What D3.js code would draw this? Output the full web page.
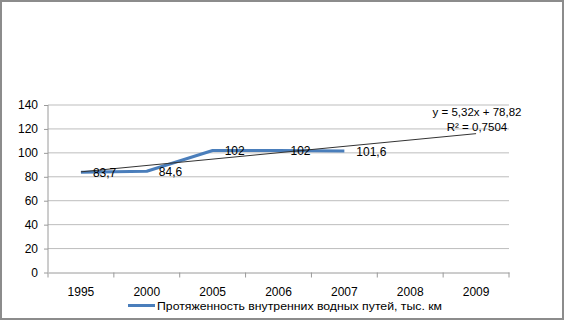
<!DOCTYPE html>
<html><head><meta charset="utf-8">
<script src="https://cdn.jsdelivr.net/npm/d3@7"></script>
<style>body{margin:0;background:#fff}svg{display:block}text{font-family:"Liberation Sans",Arial,sans-serif}</style>
</head><body><svg id="c" width="565" height="321"></svg>
<script>
const categories = ["1995","2000","2005","2006","2007","2008","2009"];
const values = [83.7, 84.6, 102, 102, 101.6];
const valueLabels = ["83,7","84,6","102","102","101,6"];
const yTicks = [0,20,40,60,80,100,120,140];
const trendSlope = 5.32, trendIntercept = 78.82;
const trendText = ["y = 5,32x + 78,82", "R² = 0,7504"];
const seriesName = "Протяженность внутренних водных путей, тыс. км";

const svg = d3.select("#c");
svg.append("rect").attr("x",1).attr("y",1).attr("width",562).attr("height",318)
  .attr("fill","#fff").attr("stroke","#8c8c8c").attr("stroke-width",2);

const L=48, R=509, T=105, B=272.5;
const x = d3.scaleBand().domain(categories).range([L,R]);
const y = d3.scaleLinear().domain([0,140]).range([B,T]);

// gridlines
svg.append("g").selectAll("line").data(yTicks.filter(d=>d>0)).join("line")
  .attr("x1",L).attr("x2",R).attr("y1",d=>y(d)).attr("y2",d=>y(d))
  .attr("stroke","#bdbdbd").attr("stroke-width",1);

// y axis
const ya = svg.append("g").attr("transform",`translate(${L},0)`)
  .call(d3.axisLeft(y).tickValues(yTicks).tickSize(4).tickPadding(6));
ya.select(".domain").attr("stroke","#9a9a9a").attr("d",`M0,${T}V${B}`);
ya.selectAll(".tick line").attr("stroke","#9a9a9a");
ya.selectAll("text").attr("font-size",12).attr("fill","#000").attr("font-family","Liberation Sans, Arial");

// x axis
const xa = svg.append("g").attr("transform",`translate(0,${B})`)
  .call(d3.axisBottom(x).tickSize(0).tickPadding(15));
xa.select(".domain").attr("stroke","#9a9a9a");
xa.selectAll("text").attr("font-size",12).attr("fill","#000").attr("font-family","Liberation Sans, Arial");
svg.append("g").selectAll("line").data(categories.concat(["end"])).join("line")
  .attr("x1",(d,i)=>L+i*x.bandwidth()).attr("x2",(d,i)=>L+i*x.bandwidth())
  .attr("y1",B).attr("y2",B+5).attr("stroke","#9a9a9a");

const cx = i => x(categories[i]) + x.bandwidth()/2;

// series line
svg.append("path").datum(values)
  .attr("d", d3.line().x((d,i)=>cx(i)).y(d=>y(d)))
  .attr("fill","none").attr("stroke","#4a7ebb").attr("stroke-width",3).attr("stroke-linejoin","round");

// trendline
const tx0 = 1, tx1 = categories.length;
svg.append("line")
  .attr("x1",cx(tx0-1)).attr("y1",y(trendSlope*tx0+trendIntercept))
  .attr("x2",cx(tx1-1)).attr("y2",y(trendSlope*tx1+trendIntercept))
  .attr("stroke","#333").attr("stroke-width",1);

// data labels
svg.append("g").selectAll("text").data(values).join("text")
  .attr("x",(d,i)=>cx(i)+12).attr("y",d=>y(d)+5)
  .attr("font-size",12).text((d,i)=>valueLabels[i]);

// trend equation
svg.append("g").selectAll("text").data(trendText).join("text")
  .attr("x",477).attr("y",(d,i)=>116+i*15).attr("text-anchor","middle")
  .attr("font-size",11.5).text(d=>d);

// legend
svg.append("line").attr("x1",128).attr("x2",155).attr("y1",305.5).attr("y2",305.5)
  .attr("stroke","#4a7ebb").attr("stroke-width",3);
svg.append("text").attr("x",157).attr("y",310).attr("font-size",11.5)
  .attr("textLength",285).attr("lengthAdjust","spacingAndGlyphs").text(seriesName);
</script></body></html>
